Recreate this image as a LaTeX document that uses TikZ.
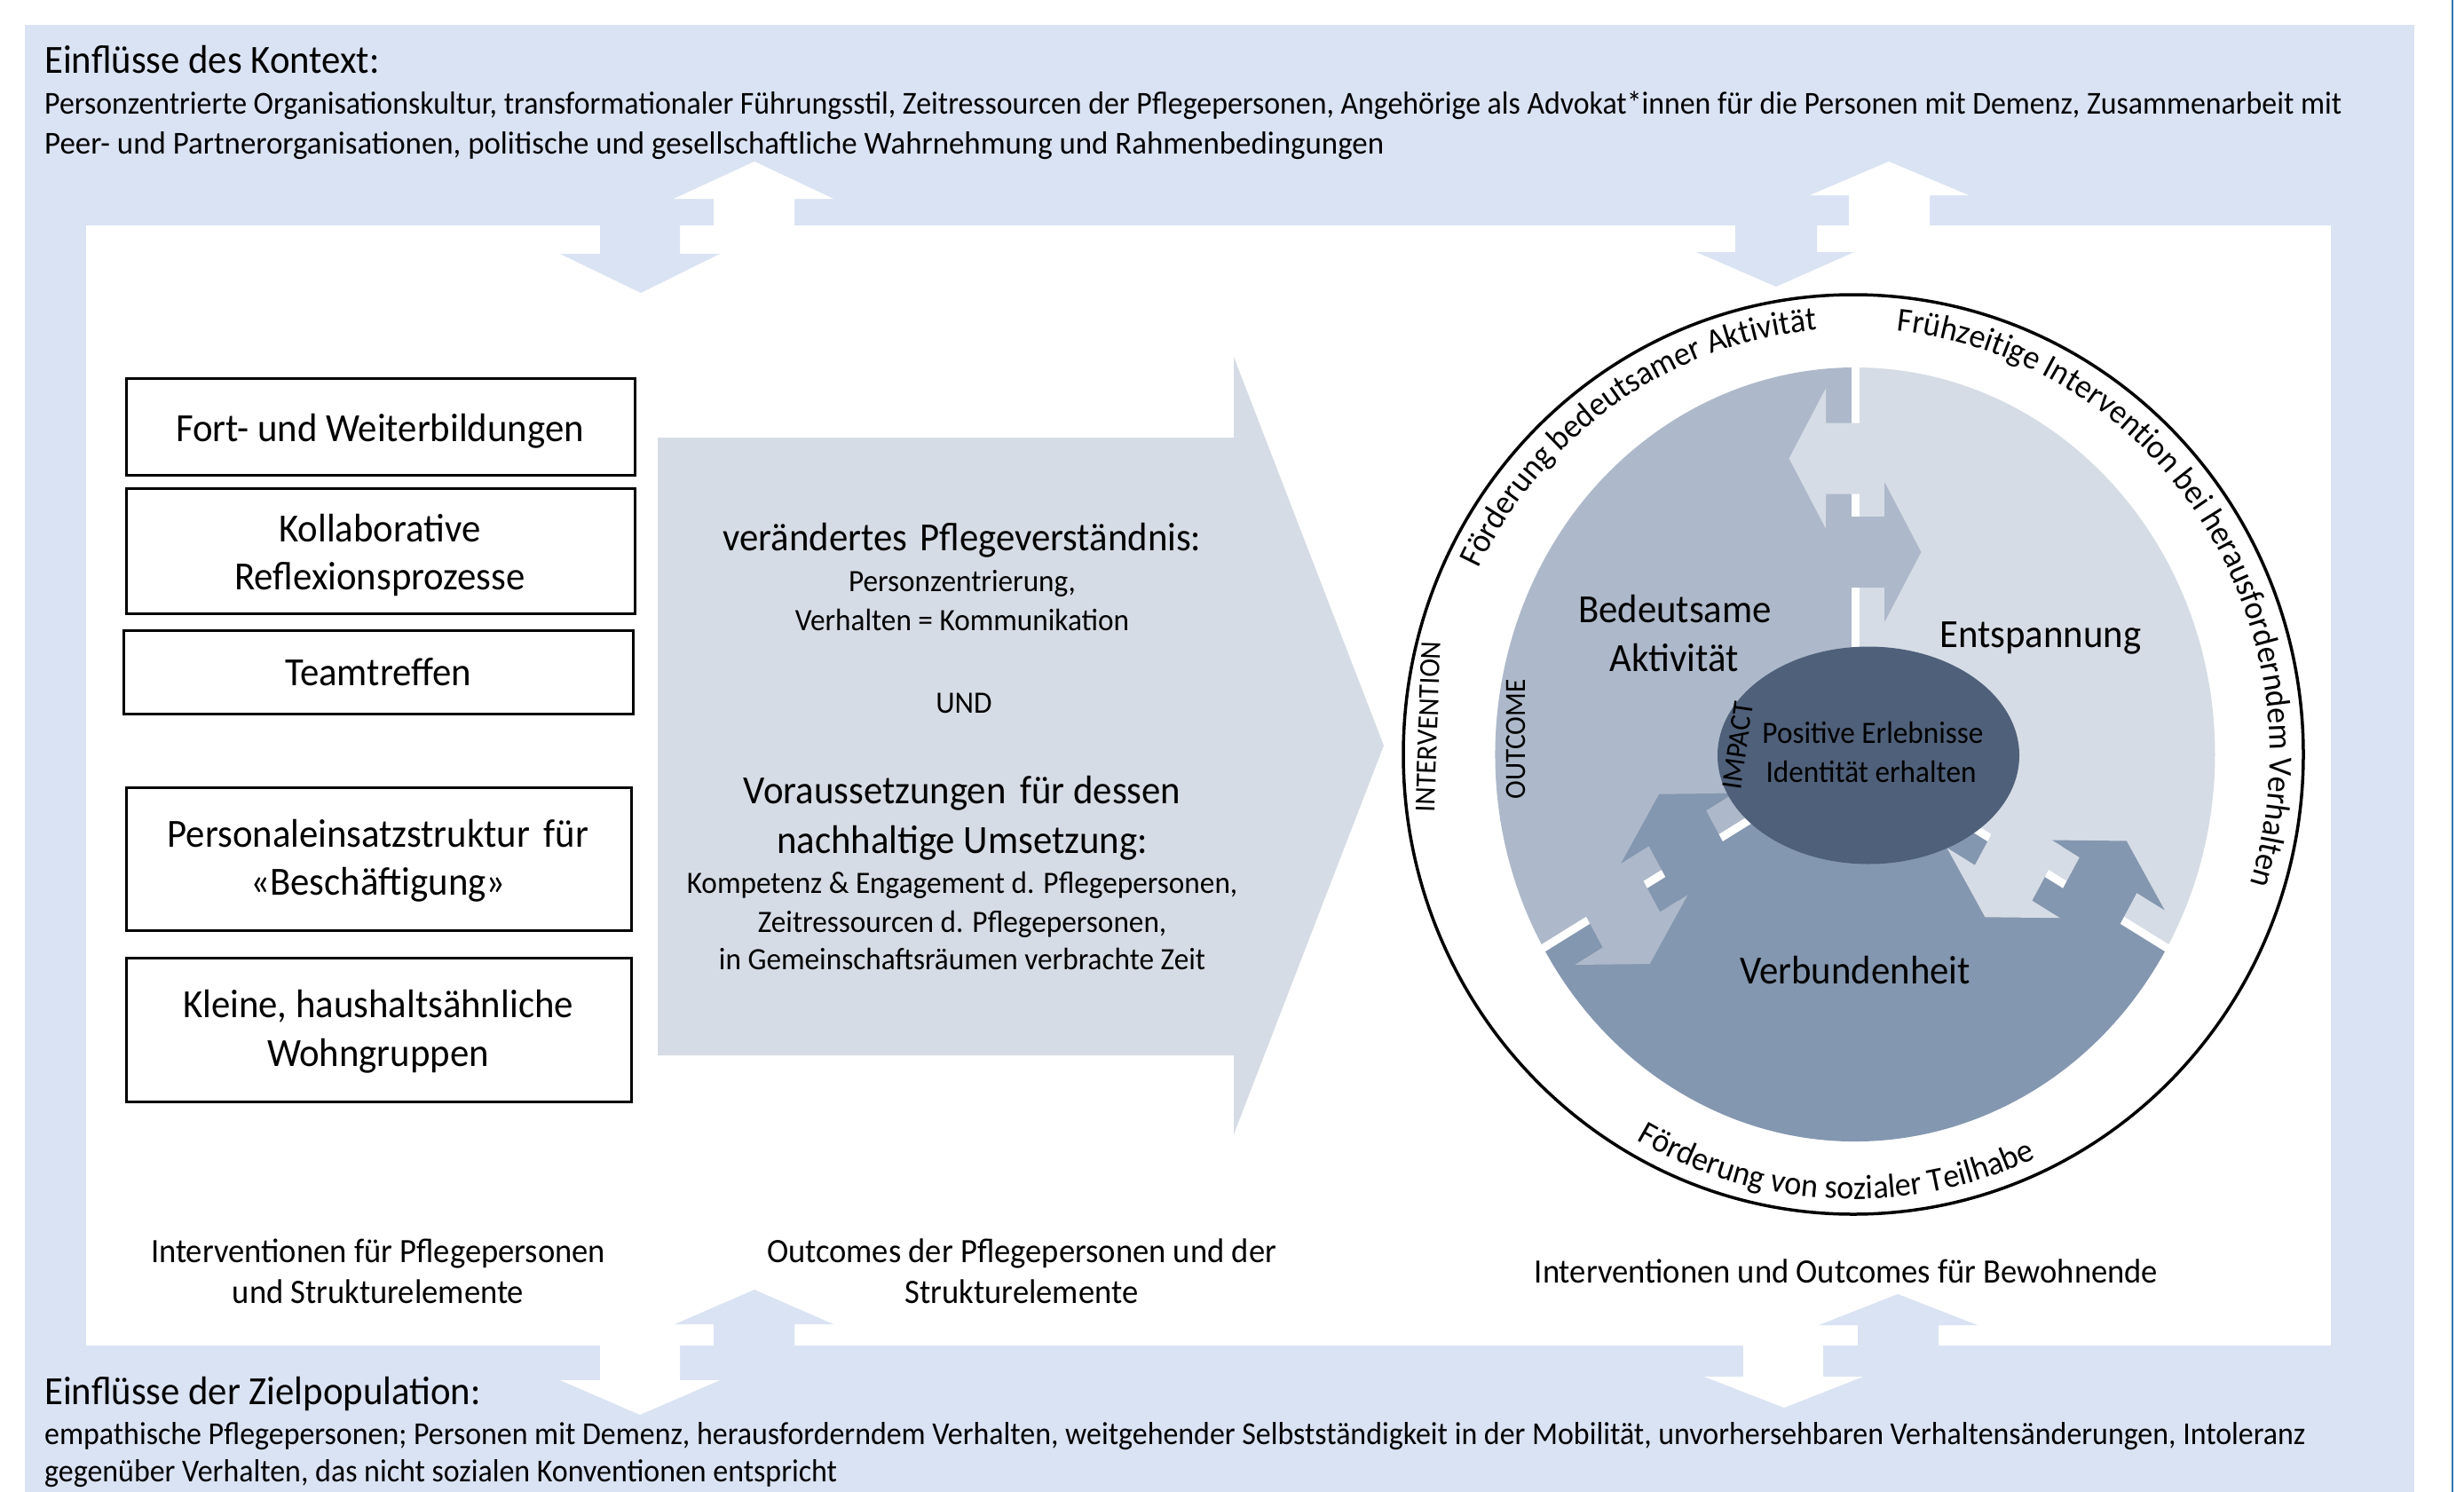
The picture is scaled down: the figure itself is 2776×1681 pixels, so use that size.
\documentclass[tikz,border=0pt]{standalone}
\usepackage{graphicx}
\usepackage{fontspec}
\setmainfont{Carlito}[FakeStretch=0.95]
\usetikzlibrary{decorations.text}

\definecolor{bgblue}{HTML}{DAE3F3}
\definecolor{arrowgray}{HTML}{D6DCE5}
\definecolor{segA}{HTML}{ADB9CA}
\definecolor{segR}{HTML}{D6DCE5}
\definecolor{segB}{HTML}{8497B0}
\definecolor{core}{HTML}{4F607A}
\definecolor{edgeblue}{HTML}{2E75B6}

\newcommand\fsz[1]{\fontsize{#1pt}{#1pt}\selectfont}
\newcommand\ringfont{\fsz{38}}

% two interlocking arrows crossing one gap of the disc
% #1 rotation, #2 colour of the outer arrow, #3 colour of the inner arrow
\newcommand\junction[3]{%
  \begin{scope}[rotate=#1]
    \fill[#2] (35.5,-373.5) -- (-35.5,-373.5) -- (-35.5,-412.5) -- (-80,-333.5)
      -- (-35.5,-254.5) -- (-35.5,-293.5) -- (35.5,-293.5) -- cycle;
    \fill[#3] (-35.5,-268) -- (35.5,-268) -- (35.5,-307) -- (80,-228)
      -- (35.5,-149) -- (35.5,-188) -- (-35.5,-188) -- cycle;
  \end{scope}}

\tikzset{
  lefttxt/.style={inner sep=0pt, anchor=base west},
  ctrtxt/.style={inner sep=0pt, anchor=base},
  bigtxt/.style={ctrtxt, font=\fsz{45}},
  midtxt/.style={ctrtxt, font=\fsz{38.5}},
  smalltxt/.style={ctrtxt, font=\fsz{35}},
  framebox/.style={draw=black, line width=3pt, fill=white, inner sep=0pt},
  captxt/.style={inner sep=0pt, font=\fsz{33}},
}

\begin{document}
\begin{tikzpicture}[x=1pt, y=-1pt]
\useasboundingbox (0,0) rectangle (2776,1681);
\fill[white] (0,0) rectangle (2776,1681);

% context frame
\fill[bgblue] (28,28) rectangle (2720,1681);
\draw[edgeblue, line width=2.5pt] (2763,0) -- (2763,1681);
\fill[white] (97,254) rectangle (2626,1516);

% exchange arrows between context and model
\fill[white] (804,254) -- (804,224) -- (759,224) -- (850,182) -- (939,224) -- (895,224) -- (895,254) -- cycle;
\fill[bgblue] (676,254) -- (676,286) -- (631,286) -- (722,330) -- (811,286) -- (766,286) -- (766,254) -- cycle;
\fill[white] (2083,254) -- (2083,220) -- (2039,220) -- (2128,182) -- (2218,220) -- (2174,220) -- (2174,254) -- cycle;
\fill[bgblue] (1955,254) -- (1955,284) -- (1911,284) -- (2001,323) -- (2089,284) -- (2047,284) -- (2047,254) -- cycle;
\fill[bgblue] (804,1516) -- (804,1492) -- (760,1492) -- (850,1453) -- (939,1492) -- (895,1492) -- (895,1516) -- cycle;
\fill[white] (676,1516) -- (676,1555) -- (631,1555) -- (721,1594) -- (811,1555) -- (766,1555) -- (766,1516) -- cycle;
\fill[bgblue] (2093,1516) -- (2093,1493) -- (2049,1493) -- (2138,1458) -- (2228,1493) -- (2184,1493) -- (2184,1516) -- cycle;
\fill[white] (1964,1516) -- (1964,1551) -- (1920,1551) -- (2010,1586) -- (2099,1551) -- (2054,1551) -- (2054,1516) -- cycle;

% context texts
\node[lefttxt, font=\fsz{45}] (ctxhead) at (50,82) {Einflüsse des Kontext:};
\node[lefttxt, font=\fsz{36}] (ctx1) at (50,128) {\scalebox{0.989}[1]{Personzentrierte Organisationskultur, transformationaler Führungsstil, Zeitressourcen der Pflegepersonen, Angehörige als Advokat*innen für die Personen mit Demenz, Zusammenarbeit mit}};
\node[lefttxt, font=\fsz{36}] (ctx2) at (50,173) {\scalebox{1.02}[1]{Peer- und Partnerorganisationen, politische und gesellschaftliche Wahrnehmung und Rahmenbedingungen}};
\node[lefttxt, font=\fsz{45}] (pophead) at (50,1582) {Einflüsse der Zielpopulation:};
\node[lefttxt, font=\fsz{36}] (pop1) at (50,1627) {\scalebox{0.991}[1]{empathische Pflegepersonen; Personen mit Demenz, herausforderndem Verhalten, weitgehender Selbstständigkeit in der Mobilität, unvorhersehbaren Verhaltensänderungen, Intoleranz}};
\node[lefttxt, font=\fsz{36}] (pop2) at (50,1669) {\scalebox{0.992}[1]{gegenüber Verhalten, das nicht sozialen Konventionen entspricht}};

% intervention boxes
\node[framebox, minimum width=573pt, minimum height=109pt] (box1) at (428.5,480.5) {};
\node[framebox, minimum width=573pt, minimum height=141pt] (box2) at (428.5,620.5) {};
\node[framebox, minimum width=574pt, minimum height=94pt] (box3) at (426,757) {};
\node[framebox, minimum width=569pt, minimum height=161pt] (box4) at (426.5,967.5) {};
\node[framebox, minimum width=569pt, minimum height=162pt] (box5) at (426.5,1160) {};
\node[bigtxt] (t1) at (428,497) {Fort- und Weiterbildungen};
\node[bigtxt] (t2a) at (428,610) {Kollaborative};
\node[bigtxt] (t2b) at (428,664) {Reflexionsprozesse};
\node[bigtxt] (t3) at (426,772) {Teamtreffen};
\node[bigtxt] (t4a) at (426,954) {Personaleinsatzstruktur\hspace{6pt} für};
\node[bigtxt] (t4b) at (426,1008) {«Beschäftigung»};
\node[bigtxt] (t5a) at (426,1146) {Kleine, haushaltsähnliche};
\node[bigtxt] (t5b) at (426,1201) {Wohngruppen};

% outcome arrow
\fill[arrowgray] (741,493) -- (1390,493) -- (1390,402) -- (1559,840) -- (1390,1278) -- (1390,1189) -- (741,1189) -- cycle;
\node[bigtxt] (o1) at (1084,620) {verändertes\hspace{4pt} Pflegeverständnis:};
\node[smalltxt] (o2) at (1084,666) {Personzentrierung,};
\node[smalltxt] (o3) at (1084,710) {Verhalten = Kommunikation};
\node[smalltxt] (o4) at (1086,803) {UND};
\node[bigtxt] (o5) at (1084,905) {Voraussetzungen\hspace{6pt} für dessen};
\node[bigtxt] (o6) at (1084,961) {nachhaltige Umsetzung:};
\node[smalltxt] (o7) at (1084,1006) {Kompetenz \& Engagement d. Pflegepersonen,};
\node[smalltxt] (o8) at (1084,1050) {Zeitressourcen d. Pflegepersonen,};
\node[smalltxt] (o9) at (1084,1092) {in Gemeinschaftsräumen verbrachte Zeit};

% column captions
\node[midtxt] (c1a) at (426,1422) {Interventionen für Pflegepersonen};
\node[midtxt] (c1b) at (426,1468) {und Strukturelemente};
\node[midtxt] (c2a) at (1151,1422) {Outcomes der Pflegepersonen und der};
\node[midtxt] (c2b) at (1151,1468) {Strukturelemente};
\node[midtxt] (c3) at (2080,1445) {Interventionen und Outcomes für Bewohnende};

% resident model: three sectors with interlocking arrows
\begin{scope}[shift={(2090,850)}, xscale=0.93]
  \fill[segA] (0,0) -- (150:436) arc[start angle=150, end angle=270, radius=436] -- cycle;
  \fill[segR] (0,0) -- (270:436) arc[start angle=270, end angle=390, radius=436] -- cycle;
  \fill[segB] (0,0) -- (30:436) arc[start angle=30, end angle=150, radius=436] -- cycle;
  \foreach \a in {30,150,270} \draw[white, line width=9pt] (0,0) -- (\a:445);
  \junction{0}{segR}{segA}
  \junction{240}{segB}{segR}
  \junction{120}{segA}{segB}
\end{scope}
\fill[core] (2105,851) ellipse[x radius=170, y radius=122.5];

% outer ring
\draw[line width=3.5pt] (2088,850) ellipse[x radius=507, y radius=518];

% texts inside the model
\node[bigtxt] (s1a) at (1887,701) {Bedeutsame};
\node[bigtxt] (s1b) at (1886,756) {Aktivität};
\node[bigtxt] (s2) at (2299,729) {Entspannung};
\node[bigtxt] (s3) at (2090,1108) {Verbundenheit};
\node[smalltxt] (k1) at (2110,837) {Positive Erlebnisse};
\node[smalltxt] (k2) at (2108,881) {Identität erhalten};
\node[captxt, rotate=88] (lint) at (1609,819) {INTERVENTION};
\node[captxt, rotate=90] (lout) at (1708,833) {OUTCOME};
\node[captxt, rotate=82] (limp) at (1958,840) {IMPACT};

% texts along the ring
\path[decorate, decoration={text along path, text align=center,
    text={|\ringfont|Förderung bedeutsamer Aktivität}}]
  (2088,850) ++(-160:469 and 480) arc[start angle=-160, end angle=-89, x radius=469, y radius=480];
\path[decorate, decoration={text along path, text align=center,
    text={|\ringfont|Frühzeitige Intervention bei herausforderndem Verhalten}}]
  (2088,850) ++(-88:469 and 480) arc[start angle=-88, end angle=21.6, x radius=469, y radius=480];
\path[decorate, decoration={text along path, text align=center,
    text={|\ringfont|Förderung von sozialer Teilhabe}}]
  (2088,850) ++(150:490 and 501) arc[start angle=150, end angle=35, x radius=490, y radius=501];
\end{tikzpicture}
\end{document}
